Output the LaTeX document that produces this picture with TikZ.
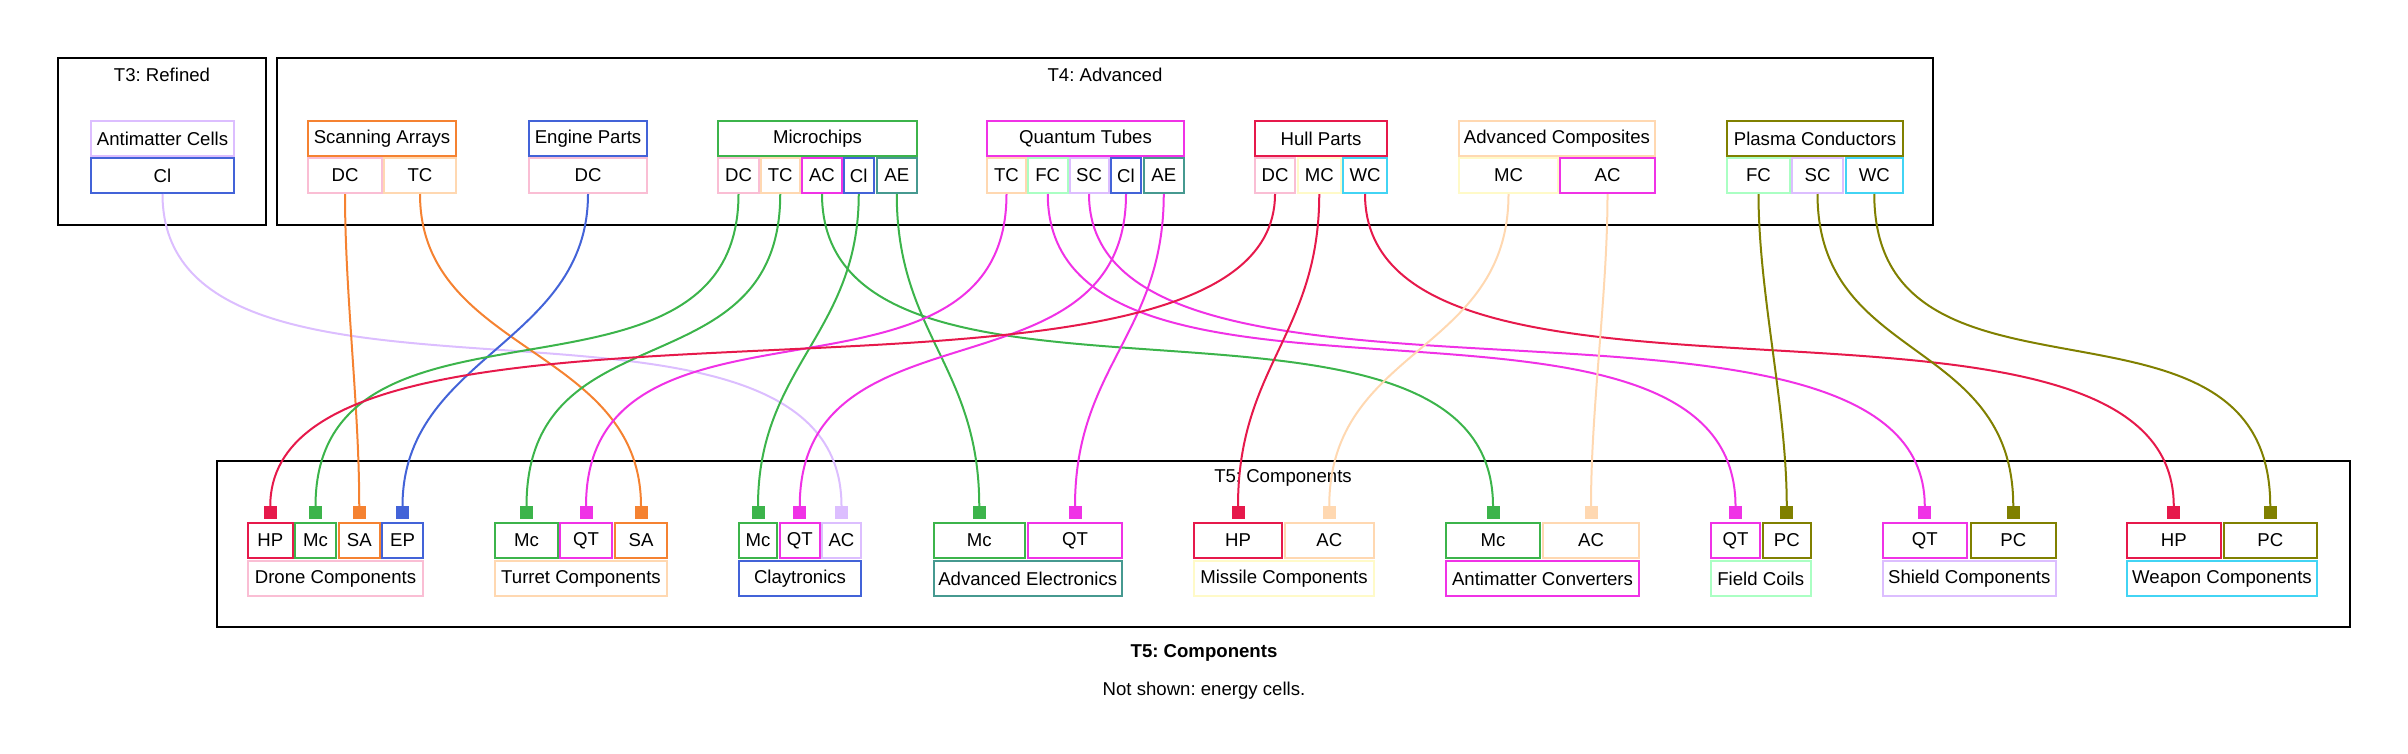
\documentclass[tikz,border=0pt]{standalone}
\usepackage{fontspec}
\setmainfont{Liberation Sans}
\frenchspacing
\definecolor{cLav}{HTML}{DCBEFF}
\definecolor{cBlue}{HTML}{4363D8}
\definecolor{cOrange}{HTML}{F58231}
\definecolor{cPink}{HTML}{FABED4}
\definecolor{cApri}{HTML}{FFD8B1}
\definecolor{cGreen}{HTML}{3CB44B}
\definecolor{cMag}{HTML}{F032E6}
\definecolor{cTeal}{HTML}{469990}
\definecolor{cMint}{HTML}{AAFFC3}
\definecolor{cRed}{HTML}{E6194B}
\definecolor{cBeige}{HTML}{FFFAC8}
\definecolor{cCyan}{HTML}{42D4F4}
\definecolor{cOlive}{HTML}{808000}
\tikzset{
  bx/.style={draw, line width=2pt, inner sep=0pt, fill=white, font=\fontsize{18.6}{21}\selectfont},
  portbox/.style={inner sep=0pt, minimum size=13pt, anchor=south},
  link/.style={line width=2pt},
  cluster/.style={draw=black, line width=1.2pt},
  ttl/.style={inner sep=0pt, font=\fontsize{18.6}{21}\selectfont},
}
\newcommand\mkbox[7]{\node[bx, draw=#6, minimum width={#3-#2}, minimum height={#5-#4}] (#1) at ({(#2+#3)/2},{(#4+#5)/2}) {#7};}
\newcommand\mkport[2]{\node[portbox, fill=#2] (p-#1) at ([yshift=2.5pt]#1.north) {};}
\newcommand\lnk[4]{\draw[link, draw=#3] (#1.south) .. controls +(0,#4) and +(0,-#4) .. (p-#2.north);}
\begin{document}
\begin{tikzpicture}[x=1pt,y=-1pt]
\useasboundingbox (0,0) rectangle (2408,753);
% clusters
\draw[cluster] (58,58) rectangle (266,225);
\node[ttl] (t3) at (162,75) {T3: Refined};
\draw[cluster] (277,58) rectangle (1933,225);
\node[ttl] (t4) at (1105,75) {T4: Advanced};
\draw[cluster] (217,461) rectangle (2350,627);
\node[ttl] (t5) at (1283,478) {T5: Components};
\node[ttl, font=\fontsize{18.6}{21}\selectfont\bfseries] (cap1) at (1204,653) {T5: Components};
\node[ttl] (cap2) at (1204,691) {Not shown: energy cells.};
% top boxes
\mkbox{amc}{90.6}{234.4}{121}{156}{cLav}{Antimatter Cells}
\mkbox{amc-ci}{90.6}{234.4}{158}{193}{cBlue}{Cl}
\mkbox{sa}{308}{456}{121}{156}{cOrange}{Scanning Arrays}
\mkbox{sa-dc}{308}{382}{158}{193}{cPink}{DC}
\mkbox{sa-tc}{384}{456}{158}{193}{cApri}{TC}
\mkbox{ep}{529}{647}{121}{156}{cBlue}{Engine Parts}
\mkbox{ep-dc}{529}{647}{158}{193}{cPink}{DC}
\mkbox{mch}{718}{917}{121}{156}{cGreen}{Microchips}
\mkbox{mch-dc}{718}{759}{158}{193}{cPink}{DC}
\mkbox{mch-tc}{760.5}{800}{158}{193}{cApri}{TC}
\mkbox{mch-ac}{802}{842}{158}{193}{cMag}{AC}
\mkbox{mch-ci}{843.5}{874}{158}{193}{cBlue}{Cl}
\mkbox{mch-ae}{876.5}{917}{158}{193}{cTeal}{AE}
\mkbox{qt}{987}{1184}{121}{156}{cMag}{Quantum Tubes}
\mkbox{qt-tc}{987}{1026}{158}{193}{cApri}{TC}
\mkbox{qt-fc}{1028}{1067.5}{158}{193}{cMint}{FC}
\mkbox{qt-sc}{1069.5}{1108.5}{158}{193}{cLav}{SC}
\mkbox{qt-ci}{1111}{1141}{158}{193}{cBlue}{Cl}
\mkbox{qt-ae}{1143.5}{1184}{158}{193}{cTeal}{AE}
\mkbox{hp}{1255}{1387}{121}{156}{cRed}{Hull Parts}
\mkbox{hp-dc}{1255}{1295}{158}{193}{cPink}{DC}
\mkbox{hp-mc}{1297.5}{1341}{158}{193}{cBeige}{MC}
\mkbox{hp-wc}{1343}{1387}{158}{193}{cCyan}{WC}
\mkbox{aco}{1459}{1655}{121}{156}{cApri}{Advanced Composites}
\mkbox{aco-mc}{1459}{1558}{158}{193}{cBeige}{MC}
\mkbox{aco-ac}{1560}{1655}{158}{193}{cMag}{AC}
\mkbox{pc}{1727}{1903}{121}{156}{cOlive}{Plasma Conductors}
\mkbox{pc-fc}{1727}{1790}{158}{193}{cMint}{FC}
\mkbox{pc-sc}{1792}{1843}{158}{193}{cLav}{SC}
\mkbox{pc-wc}{1845.5}{1903}{158}{193}{cCyan}{WC}
% bottom boxes
\mkbox{dro-hp}{248}{292.5}{523}{558}{cRed}{HP}
\mkbox{dro-mc}{295}{336}{523}{558}{cGreen}{Mc}
\mkbox{dro-sa}{339}{379.5}{523}{558}{cOrange}{SA}
\mkbox{dro-ep}{382}{423}{523}{558}{cBlue}{EP}
\mkbox{dro}{248}{423}{561}{596}{cPink}{Drone Components}
\mkbox{tur-mc}{495}{558}{523}{558}{cGreen}{Mc}
\mkbox{tur-qt}{560}{612}{523}{558}{cMag}{QT}
\mkbox{tur-sa}{615}{667}{523}{558}{cOrange}{SA}
\mkbox{tur}{495}{667}{561}{596}{cApri}{Turret Components}
\mkbox{cla-mc}{739}{777}{523}{558}{cGreen}{Mc}
\mkbox{cla-qt}{780}{819.5}{523}{558}{cMag}{QT}
\mkbox{cla-ac}{822}{861}{523}{558}{cLav}{AC}
\mkbox{cla}{739}{861}{561}{596}{cBlue}{Claytronics}
\mkbox{ael-mc}{933.5}{1025}{523}{558}{cGreen}{Mc}
\mkbox{ael-qt}{1028}{1122}{523}{558}{cMag}{QT}
\mkbox{ael}{933.5}{1122}{561}{596}{cTeal}{Advanced Electronics}
\mkbox{mis-hp}{1194}{1282}{523}{558}{cRed}{HP}
\mkbox{mis-ac}{1284.5}{1374}{523}{558}{cApri}{AC}
\mkbox{mis}{1194}{1374}{561}{596}{cBeige}{Missile Components}
\mkbox{anc-mc}{1446}{1540}{523}{558}{cGreen}{Mc}
\mkbox{anc-ac}{1543}{1639}{523}{558}{cApri}{AC}
\mkbox{anc}{1446}{1639}{561}{596}{cMag}{Antimatter Converters}
\mkbox{fco-qt}{1711}{1760}{523}{558}{cMag}{QT}
\mkbox{fco-pc}{1763}{1810.5}{523}{558}{cOlive}{PC}
\mkbox{fco}{1711}{1810.5}{561}{596}{cMint}{Field Coils}
\mkbox{shi-qt}{1882.5}{1967}{523}{558}{cMag}{QT}
\mkbox{shi-pc}{1970.5}{2056}{523}{558}{cOlive}{PC}
\mkbox{shi}{1882.5}{2056}{561}{596}{cLav}{Shield Components}
\mkbox{wea-hp}{2127}{2220.5}{523}{558}{cRed}{HP}
\mkbox{wea-pc}{2223.5}{2317}{523}{558}{cOlive}{PC}
\mkbox{wea}{2127}{2317}{561}{596}{cCyan}{Weapon Components}
% ports
\mkport{dro-hp}{cRed}
\mkport{dro-mc}{cGreen}
\mkport{dro-sa}{cOrange}
\mkport{dro-ep}{cBlue}
\mkport{tur-mc}{cGreen}
\mkport{tur-qt}{cMag}
\mkport{tur-sa}{cOrange}
\mkport{cla-mc}{cGreen}
\mkport{cla-qt}{cMag}
\mkport{cla-ac}{cLav}
\mkport{ael-mc}{cGreen}
\mkport{ael-qt}{cMag}
\mkport{mis-hp}{cRed}
\mkport{mis-ac}{cApri}
\mkport{anc-mc}{cGreen}
\mkport{anc-ac}{cApri}
\mkport{fco-qt}{cMag}
\mkport{fco-pc}{cOlive}
\mkport{shi-qt}{cMag}
\mkport{shi-pc}{cOlive}
\mkport{wea-hp}{cRed}
\mkport{wea-pc}{cOlive}
% links
\lnk{amc-ci}{cla-ac}{cLav}{265}
\lnk{sa-dc}{dro-sa}{cOrange}{100}
\lnk{sa-tc}{tur-sa}{cOrange}{160}
\lnk{ep-dc}{dro-ep}{cBlue}{150}
\lnk{mch-dc}{dro-mc}{cGreen}{240}
\lnk{mch-tc}{tur-mc}{cGreen}{200}
\lnk{mch-ac}{anc-mc}{cGreen}{265}
\lnk{mch-ci}{cla-mc}{cGreen}{140}
\lnk{mch-ae}{ael-mc}{cGreen}{140}
\lnk{qt-tc}{tur-qt}{cMag}{240}
\lnk{qt-fc}{fco-qt}{cMag}{265}
\lnk{qt-sc}{shi-qt}{cMag}{265}
\lnk{qt-ci}{cla-qt}{cMag}{210}
\lnk{qt-ae}{ael-qt}{cMag}{140}
\lnk{hp-dc}{dro-hp}{cRed}{265}
\lnk{hp-mc}{mis-hp}{cRed}{140}
\lnk{hp-wc}{wea-hp}{cRed}{265}
\lnk{aco-mc}{mis-ac}{cApri}{160}
\lnk{aco-ac}{anc-ac}{cApri}{100}
\lnk{pc-fc}{fco-pc}{cOlive}{100}
\lnk{pc-sc}{shi-pc}{cOlive}{170}
\lnk{pc-wc}{wea-pc}{cOlive}{240}
\end{tikzpicture}
\end{document}
